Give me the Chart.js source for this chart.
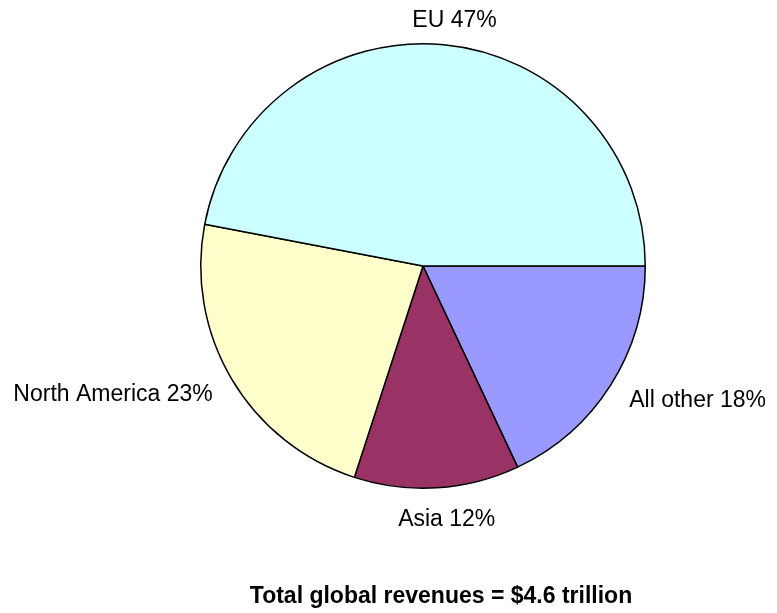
<!DOCTYPE html>
<html>
<head>
<meta charset="utf-8">
<script src="https://cdn.jsdelivr.net/npm/chart.js@4.4.0/dist/chart.umd.min.js"></script>
<style>
  html, body { margin: 0; padding: 0; background: #fff; }
  #wrap { width: 777px; height: 613px; position: relative; }
</style>
</head>
<body>
<div id="wrap"><canvas id="revenuePie"></canvas></div>
<script>
// slices listed clockwise from 3 o'clock
const regions = ['All other', 'Asia', 'North America', 'EU'];
const shares = [18, 12, 23, 47];
const sliceColors = ['#9999FF', '#993366', '#FFFFCC', '#CCFFFF'];
const caption = 'Total global revenues = $4.6 trillion';

const FONT = '"Liberation Sans", Arial, sans-serif';

// draws "Label NN%" outside each slice, plus the caption under the pie
const outsideLabels = {
    id: 'outsideLabels',
    afterDraw(chart) {
        const ctx = chart.ctx;
        const arcs = chart.getDatasetMeta(0).data;
        ctx.save();
        ctx.fillStyle = '#000';
        ctx.font = '23px ' + FONT;
        ctx.textBaseline = 'middle';
        arcs.forEach(function (arc, i) {
            const p = arc.getProps(['x', 'y', 'startAngle', 'endAngle', 'outerRadius'], true);
            const mid = (p.startAngle + p.endAngle) / 2;
            const c = Math.cos(mid);
            const side = Math.abs(c) > 0.3;
            const r = p.outerRadius + (side ? 22 : 28);
            const tx = p.x + c * r + (side ? 0 : 8);
            const ty = p.y + Math.sin(mid) * r + 4;
            ctx.textAlign = c > 0.3 ? 'left' : (c < -0.3 ? 'right' : 'center');
            ctx.fillText(regions[i] + ' ' + shares[i] + '%', tx, ty);
        });
        ctx.font = 'bold 23px ' + FONT;
        ctx.textAlign = 'center';
        ctx.fillText(caption, 441, 597);
        ctx.restore();
    }
};

new Chart(document.getElementById('revenuePie'), {
    type: 'pie',
    data: {
        labels: regions,
        datasets: [{
            data: shares,
            backgroundColor: sliceColors,
            borderColor: '#000',
            borderWidth: 1.5
        }]
    },
    options: {
        responsive: true,
        maintainAspectRatio: false,
        animation: false,
        rotation: 90,
        layout: {
            padding: { left: 200, right: 131, top: 43, bottom: 124 }
        },
        plugins: {
            legend: { display: false },
            tooltip: { enabled: false }
        }
    },
    plugins: [outsideLabels]
});
</script>
</body>
</html>
